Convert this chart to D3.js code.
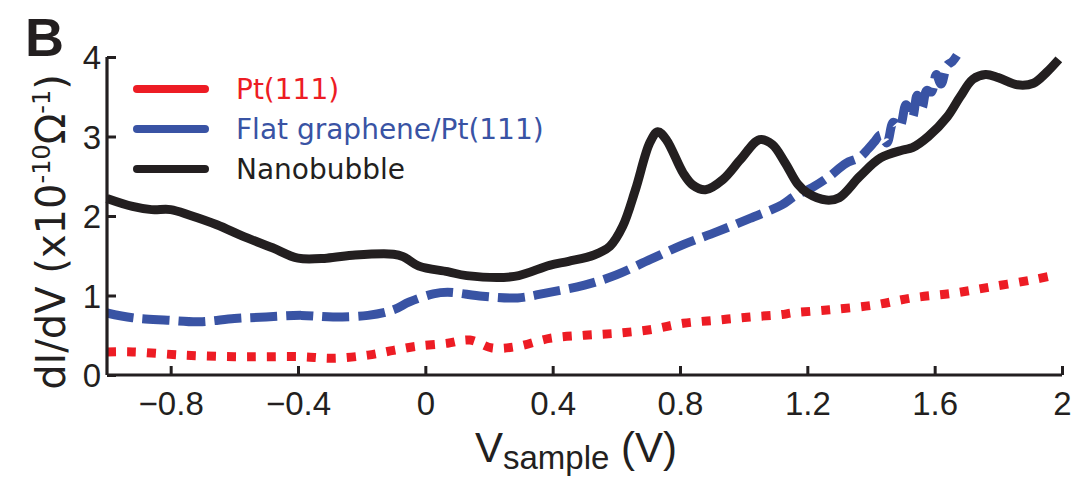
<!DOCTYPE html>
<html>
<head>
<meta charset="utf-8">
<script src="https://cdn.jsdelivr.net/npm/d3@7"></script>
<style>
  html, body { margin: 0; padding: 0; background: #fff; }
  svg { display: block; }
  text { fill: #231f20; }
</style>
</head>
<body>
<svg id="chart" width="1076" height="478"></svg>
<script>
// Tunneling conductance spectra (dI/dV vs sample bias)
const xTicks = [-0.8, -0.4, 0, 0.4, 0.8, 1.2, 1.6, 2];
const xTickLabels = ["\u22120.8", "\u22120.4", "0", "0.4", "0.8", "1.2", "1.6", "2"];
const yTicks = [0, 1, 2, 3, 4];
const yTickLabels = ["0", "1", "2", "3", "4"];

const seriesNames = ["Pt(111)", "Flat graphene/Pt(111)", "Nanobubble"];
const seriesColors = ["#ed1c24", "#3953a4", "#231f20"];

const ptBias = [-1.0,-0.92,-0.76,-0.60,-0.50,-0.39,-0.29,-0.18,-0.10,-0.03,0.07,0.14,0.21,0.29,0.39,0.50,0.60,0.705,0.81,0.915,1.02,1.12,1.15,1.27,1.41,1.53,1.66,1.78,1.91,1.97];
const ptValues = [0.29,0.29,0.25,0.23,0.23,0.23,0.21,0.25,0.31,0.36,0.40,0.44,0.34,0.36,0.46,0.50,0.525,0.57,0.65,0.69,0.73,0.76,0.78,0.82,0.88,0.97,1.03,1.11,1.20,1.25];

const flatBias = [-1.0,-0.92,-0.81,-0.71,-0.60,-0.50,-0.39,-0.29,-0.18,-0.10,-0.05,0.025,0.07,0.18,0.29,0.39,0.50,0.60,0.705,0.81,0.915,1.02,1.12,1.16,1.22,1.27,1.32,1.365,1.39,1.41,1.43,1.45,1.47,1.49,1.51,1.53,1.545,1.56,1.575,1.59,1.605,1.62,1.64,1.655,1.67];
const flatValues = [0.78,0.72,0.69,0.67,0.71,0.73,0.75,0.73,0.75,0.82,0.92,1.02,1.04,0.99,0.97,1.04,1.13,1.26,1.45,1.64,1.80,1.97,2.14,2.25,2.37,2.50,2.66,2.74,2.84,2.93,3.02,2.92,3.18,3.12,3.40,3.24,3.52,3.36,3.58,3.56,3.78,3.66,3.90,3.94,4.02];

const bubbleBias = [-1.0,-0.92,-0.86,-0.80,-0.74,-0.655,-0.57,-0.48,-0.40,-0.31,-0.22,-0.10,-0.07,-0.02,0.07,0.13,0.28,0.39,0.45,0.53,0.58,0.62,0.66,0.705,0.73,0.757,0.81,0.84,0.88,0.935,0.99,1.05,1.09,1.13,1.17,1.20,1.26,1.30,1.365,1.43,1.50,1.53,1.58,1.64,1.68,1.72,1.76,1.80,1.86,1.91,1.95,1.99];
const bubbleValues = [2.22,2.12,2.08,2.08,2.01,1.89,1.74,1.60,1.47,1.47,1.51,1.52,1.49,1.37,1.30,1.25,1.24,1.38,1.43,1.51,1.62,1.87,2.33,2.92,3.06,2.96,2.54,2.39,2.33,2.46,2.71,2.96,2.90,2.67,2.40,2.29,2.20,2.23,2.50,2.73,2.83,2.86,3.00,3.25,3.50,3.72,3.78,3.74,3.65,3.67,3.80,3.97];

const svg = d3.select("#chart");
const plot = { left: 107, right: 1062, top: 57, bottom: 375 };

const x = d3.scaleLinear().domain([-1, 2]).range([plot.left, plot.right]);
const y = d3.scaleLinear().domain([0, 4]).range([plot.bottom, plot.top]);

const zip = (xs, ys) => xs.map((v, i) => [v, ys[i]]);
const series = [
  { data: zip(ptBias, ptValues), dash: "9,11" },
  { data: zip(flatBias, flatValues), dash: "27,9" },
  { data: zip(bubbleBias, bubbleValues), dash: null }
];

const line = d3.line()
  .x(d => x(d[0]))
  .y(d => y(d[1]))
  .curve(d3.curveCatmullRom.alpha(0.5));

series.forEach((s, i) => {
  svg.append("path")
    .attr("d", line(s.data))
    .attr("fill", "none")
    .attr("stroke", seriesColors[i])
    .attr("stroke-width", 9)
    .attr("stroke-linejoin", "round")
    .attr("stroke-dasharray", s.dash);
});

// Axes: ticks point inward, labels drawn from the tick arrays
const xAxis = d3.axisBottom(x)
  .tickValues(xTicks)
  .tickSize(-9)
  .tickPadding(17)
  .tickFormat((d, i) => xTickLabels[i]);
const gx = svg.append("g")
  .attr("transform", `translate(0,${plot.bottom})`)
  .call(xAxis);

const yAxis = d3.axisLeft(y)
  .tickValues(yTicks)
  .tickSize(-9)
  .tickPadding(6)
  .tickFormat((d, i) => yTickLabels[i]);
const gy = svg.append("g")
  .attr("transform", `translate(${plot.left},0)`)
  .call(yAxis);

[gx, gy].forEach(g => {
  g.select(".domain").attr("stroke", "#231f20").attr("stroke-width", 3.2)
    .attr("d", g === gx
      ? `M${plot.left},0H${plot.right}`
      : `M0,${plot.bottom}V${plot.top}`);
  g.selectAll(".tick line").attr("stroke", "#231f20").attr("stroke-width", 3);
  g.selectAll(".tick text")
    .attr("fill", "#231f20")
    .style("font-family", "'Liberation Sans', Arial, sans-serif")
    .style("font-size", "33px");
});
gx.selectAll(".tick text").attr("dy", "0.71em");
gy.selectAll(".tick text").attr("dy", "0.36em");

// x-axis title with subscript
const xt = svg.append("text")
  .attr("x", 576).attr("y", 462)
  .attr("text-anchor", "middle")
  .style("font-family", "'Liberation Sans', Arial, sans-serif")
  .style("font-size", "42px");
xt.append("tspan").text("V");
xt.append("tspan").attr("dy", 7).style("font-size", "33px").text("sample");
xt.append("tspan").attr("dy", -7).text(" (V)");

// y-axis title with superscripts
const yt = svg.append("text")
  .attr("transform", "translate(65,232) rotate(-90)")
  .attr("text-anchor", "middle")
  .style("font-family", "'DejaVu Sans', sans-serif")
  .style("font-size", "40px");
yt.append("tspan").text("dI/dV (x10");
yt.append("tspan").attr("dy", -15).style("font-size", "24px").text("-10");
yt.append("tspan").attr("dy", 15).text("\u03a9");
yt.append("tspan").attr("dy", -15).style("font-size", "24px").text("-1");
yt.append("tspan").attr("dy", 15).text(")");

// Panel letter
svg.append("text")
  .attr("x", 25).attr("y", 56)
  .style("font-family", "'Liberation Sans', Arial, sans-serif")
  .style("font-weight", "bold")
  .style("font-size", "54px")
  .text("B");

// Legend
const legendY = [89, 129, 169];
seriesNames.forEach((name, i) => {
  svg.append("line")
    .attr("x1", 137).attr("x2", 205)
    .attr("y1", legendY[i]).attr("y2", legendY[i])
    .attr("stroke", seriesColors[i])
    .attr("stroke-width", 8)
    .attr("stroke-linecap", "round");
  svg.append("text")
    .attr("x", 236).attr("y", legendY[i])
    .attr("dy", "0.36em")
    .style("font-family", "'DejaVu Sans', sans-serif")
    .style("font-size", "28px")
    .style("fill", seriesColors[i])
    .text(name);
});
</script>
</body>
</html>
